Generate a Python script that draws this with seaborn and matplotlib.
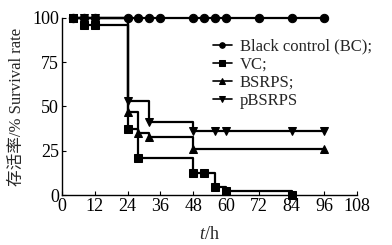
import matplotlib
matplotlib.use("Agg")
import matplotlib.pyplot as plt
import seaborn as sns
import pandas as pd

sns.set_theme(style="ticks")
plt.rcParams['font.family'] = ['Liberation Serif', 'Noto Sans CJK SC']
plt.rcParams['mathtext.fontset'] = 'custom'
plt.rcParams['mathtext.it'] = 'Liberation Serif:italic'
plt.rcParams['mathtext.rm'] = 'Liberation Serif'

# Data
bc_t = [4, 8, 12, 24, 28, 32, 36, 48, 52, 56, 60, 72, 84, 96]
bc_v = [100, 100, 100, 100, 100, 100, 100, 100, 100, 100, 100, 100, 100, 100]
vc_t = [4, 8, 12, 24, 28, 48, 52, 56, 60, 84]
vc_v = [100, 96, 96, 37, 21, 12.5, 12.5, 4.5, 2, 0]
bsrps_t = [4, 8, 12, 24, 28, 32, 48, 96]
bsrps_v = [100, 100, 100, 47, 35, 33, 26, 26]
pbsrps_t = [4, 8, 12, 24, 32, 48, 56, 60, 84, 96]
pbsrps_v = [100, 100, 100, 53, 41, 36, 36, 36, 36, 36]

labels = ["Black control (BC);", "VC;", "BSRPS;", "pBSRPS"]
series = [(bc_t, bc_v, 'o'), (vc_t, vc_v, 's'), (bsrps_t, bsrps_v, '^'), (pbsrps_t, pbsrps_v, 'v')]

fig = plt.figure(figsize=(3.92, 2.45), dpi=100)
ax = fig.add_axes([0.158, 0.204, 0.753, 0.723])

for (t, v, m), lab in zip(series, labels):
    df = pd.DataFrame({"t": t, "v": v})
    sns.lineplot(data=df, x="t", y="v", ax=ax, color="black", marker=m,
                 markersize=6, markeredgecolor="black", linewidth=1.6,
                 drawstyle="steps-post", label=lab, clip_on=False, zorder=3)

ax.set_xlim(0, 108)
ax.set_ylim(0, 100)
ax.set_xticks(range(0, 109, 12))
ax.set_yticks([0, 25, 50, 75, 100])
ax.tick_params(direction="in", length=3, width=0.8, labelsize=13, pad=2, colors="black")
for s in ["top", "right"]:
    ax.spines[s].set_visible(False)
for s in ["left", "bottom"]:
    ax.spines[s].set_linewidth(1.0)
    ax.spines[s].set_color("black")

ax.set_xlabel("$t$/h", fontsize=13, labelpad=8)
ax.set_ylabel("存活率/% Survival rate", fontsize=12, labelpad=5)

leg = ax.legend(loc="upper left", bbox_to_anchor=(0.49, 0.92), frameon=False,
                fontsize=12, handlelength=1.1, handletextpad=0.5,
                labelspacing=0.12, borderaxespad=0)
for h in leg.legend_handles:
    h.set_markersize(4)
    h.set_linewidth(1.2)

fig.savefig("out.png", dpi=100)
